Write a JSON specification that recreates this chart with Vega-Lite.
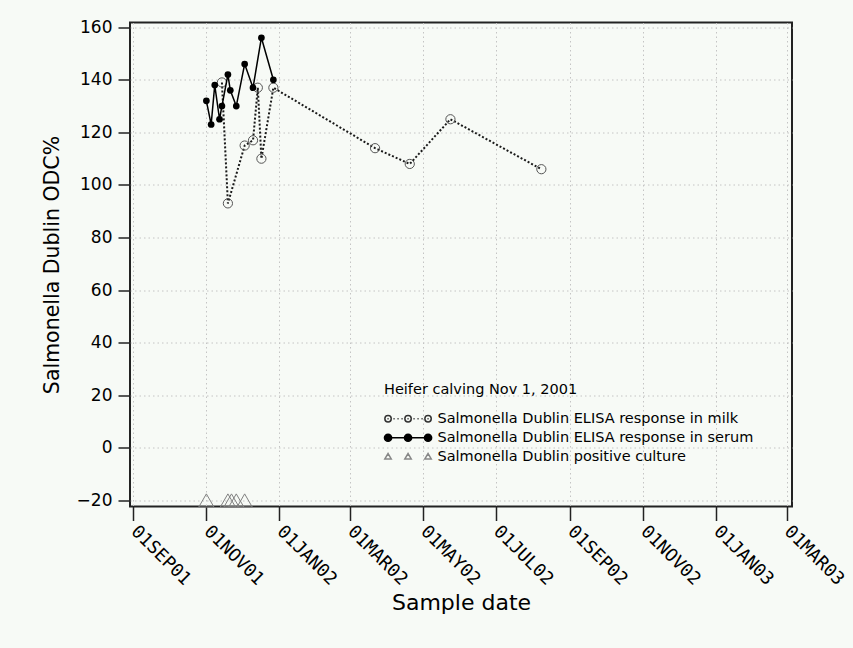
{
  "$schema": "https://vega.github.io/schema/vega-lite/v6.json",
  "autosize": {"type": "none"},
  "width": 662,
  "height": 484,
  "padding": {"left": 130, "top": 22.5, "right": 61, "bottom": 141.5},
  "background": "#f7faf6",
  "datasets": {
    "serum": [
      {"date": "2001-11-01", "odc": 132},
      {"date": "2001-11-05", "odc": 123},
      {"date": "2001-11-08", "odc": 138},
      {"date": "2001-11-12", "odc": 125},
      {"date": "2001-11-14", "odc": 130},
      {"date": "2001-11-19", "odc": 142},
      {"date": "2001-11-21", "odc": 136},
      {"date": "2001-11-26", "odc": 130},
      {"date": "2001-12-03", "odc": 146},
      {"date": "2001-12-10", "odc": 137},
      {"date": "2001-12-17", "odc": 156},
      {"date": "2001-12-27", "odc": 140}
    ],
    "milk": [
      {"date": "2001-11-14", "odc": 139},
      {"date": "2001-11-19", "odc": 93},
      {"date": "2001-12-03", "odc": 115},
      {"date": "2001-12-10", "odc": 117},
      {"date": "2001-12-14", "odc": 137},
      {"date": "2001-12-17", "odc": 110},
      {"date": "2001-12-27", "odc": 137},
      {"date": "2002-03-22", "odc": 114},
      {"date": "2002-04-20", "odc": 108},
      {"date": "2002-05-24", "odc": 125},
      {"date": "2002-08-08", "odc": 106}
    ],
    "culture": [
      {"date": "2001-11-01", "odc": -20},
      {"date": "2001-11-19", "odc": -20},
      {"date": "2001-11-22", "odc": -20},
      {"date": "2001-11-26", "odc": -20},
      {"date": "2001-12-03", "odc": -20}
    ],
    "series": [
      {"series": "Salmonella Dublin ELISA response in milk"},
      {"series": "Salmonella Dublin ELISA response in serum"},
      {"series": "Salmonella Dublin positive culture"}
    ]
  },
  "encoding": {
    "x": {
      "field": "date",
      "type": "temporal",
      "scale": {
        "type": "utc",
        "nice": false,
        "domain": [
          {"year": 2001, "month": 8, "date": 29, "hours": 4, "utc": true},
          {"year": 2003, "month": 3, "date": 5, "hours": 12, "utc": true}
        ]
      },
      "axis": {
        "title": "Sample date",
        "values": [
          {"year": 2001, "month": 9, "date": 1, "utc": true},
          {"year": 2001, "month": 11, "date": 1, "utc": true},
          {"year": 2002, "month": 1, "date": 1, "utc": true},
          {"year": 2002, "month": 3, "date": 1, "utc": true},
          {"year": 2002, "month": 5, "date": 1, "utc": true},
          {"year": 2002, "month": 7, "date": 1, "utc": true},
          {"year": 2002, "month": 9, "date": 1, "utc": true},
          {"year": 2002, "month": 11, "date": 1, "utc": true},
          {"year": 2003, "month": 1, "date": 1, "utc": true},
          {"year": 2003, "month": 3, "date": 1, "utc": true}
        ],
        "labelExpr": "upper(utcFormat(datum.value, '%d%b%y'))",
        "labelAngle": 45,
        "labelAlign": "left",
        "labelBaseline": "middle",
        "labelFont": "DejaVu Sans Mono",
        "labelFontSize": 18,
        "labelPadding": 8,
        "tickSize": 14,
        "titleFontSize": 22,
        "titlePadding": 4
      }
    },
    "y": {
      "field": "odc",
      "type": "quantitative",
      "scale": {"domain": [-22.3, 161.8], "nice": false, "zero": false},
      "axis": {
        "title": "Salmonella Dublin ODC%",
        "values": [-20, 0, 20, 40, 60, 80, 100, 120, 140, 160],
        "labelFontSize": 17,
        "labelPadding": 6,
        "tickSize": 12,
        "titleFontSize": 20.5,
        "titlePadding": 14
      }
    }
  },
  "layer": [
    {
      "data": {"name": "milk"},
      "mark": {"type": "line", "color": "#1a1a1a", "strokeWidth": 2, "strokeDash": [2, 2]}
    },
    {
      "data": {"name": "milk"},
      "mark": {"type": "point", "shape": "circle", "size": 85, "filled": false, "stroke": "#555555", "strokeWidth": 1, "opacity": 1}
    },
    {
      "data": {"name": "serum"},
      "mark": {"type": "line", "color": "black", "strokeWidth": 1.5}
    },
    {
      "data": {"name": "serum"},
      "mark": {"type": "point", "shape": "circle", "size": 45, "filled": true, "color": "black", "opacity": 1}
    },
    {
      "data": {"name": "culture"},
      "mark": {"type": "point", "shape": "triangle-up", "size": 230, "filled": false, "stroke": "#808080", "strokeWidth": 1, "opacity": 1}
    },
    {
      "description": "Legend-only layer: it draws no marks and just feeds the shape/fill/stroke scales of the key.",
      "data": {"name": "series"},
      "transform": [{"filter": "false"}],
      "mark": {"type": "point"},
      "encoding": {
        "x": null,
        "y": null,
        "shape": {
          "field": "series",
          "type": "nominal",
          "scale": {
            "domain": [
              "Salmonella Dublin ELISA response in milk",
              "Salmonella Dublin ELISA response in serum",
              "Salmonella Dublin positive culture"
            ],
            "range": [
              "M0,0A0.8,0.8,0,1,1,-1.6,0A0.8,0.8,0,1,1,0,0ZM5,0A0.8,0.8,0,1,1,3.4,0A0.8,0.8,0,1,1,5,0ZM10,0A0.8,0.8,0,1,1,8.4,0A0.8,0.8,0,1,1,10,0ZM-0.95,0L-0.65,0M4.05,0L4.35,0M9.05,0L9.35,0M0.55,0L0.85,0M1.55,0L1.85,0M2.55,0L2.85,0M5.55,0L5.85,0M6.55,0L6.85,0M7.55,0L7.85,0",
              "M0.1,0A0.9,0.9,0,1,1,-1.7,0A0.9,0.9,0,1,1,0.1,0ZM5.1,0A0.9,0.9,0,1,1,3.3,0A0.9,0.9,0,1,1,5.1,0ZM10.1,0A0.9,0.9,0,1,1,8.3,0A0.9,0.9,0,1,1,10.1,0ZM-0.8,0L9.2,0",
              "M-1.6,0.55L-0.8,-0.8L0,0.55ZM3.4,0.55L4.2,-0.8L5,0.55ZM8.4,0.55L9.2,-0.8L10,0.55Z"
            ]
          },
          "legend": {
            "title": "Heifer calving Nov 1, 2001",
            "orient": "none",
            "legendX": 254,
            "legendY": 360,
            "padding": 0,
            "symbolSize": 64,
            "symbolStrokeWidth": 1.5,
            "symbolOpacity": 1,
            "labelOffset": 39,
            "labelLimit": 400,
            "titleLimit": 400,
            "rowPadding": 4,
            "titlePadding": 14.5,
            "labelFontSize": 14.5,
            "titleFontSize": 14.5,
            "titleFontWeight": "normal",
            "labelColor": "black",
            "titleColor": "black"
          }
        },
        "fill": {
          "field": "series",
          "type": "nominal",
          "scale": {
            "domain": [
              "Salmonella Dublin ELISA response in milk",
              "Salmonella Dublin ELISA response in serum",
              "Salmonella Dublin positive culture"
            ],
            "range": ["transparent", "black", "transparent"]
          }
        },
        "stroke": {
          "field": "series",
          "type": "nominal",
          "scale": {
            "domain": [
              "Salmonella Dublin ELISA response in milk",
              "Salmonella Dublin ELISA response in serum",
              "Salmonella Dublin positive culture"
            ],
            "range": ["#333333", "black", "#888888"]
          }
        }
      }
    }
  ],
  "config": {
    "font": "DejaVu Sans",
    "view": {"stroke": "#222222", "strokeWidth": 2, "fill": "#f9fbf8"},
    "axis": {
      "domain": false,
      "labelFont": "DejaVu Sans",
      "titleFont": "DejaVu Sans",
      "labelColor": "black",
      "titleColor": "black",
      "titleFontWeight": "normal",
      "tickColor": "#222222",
      "tickWidth": 1.5,
      "gridColor": "#c4c4c4",
      "gridDash": [1.5, 3],
      "gridWidth": 1
    },
    "legend": {"labelFont": "DejaVu Sans", "titleFont": "DejaVu Sans"}
  }
}
